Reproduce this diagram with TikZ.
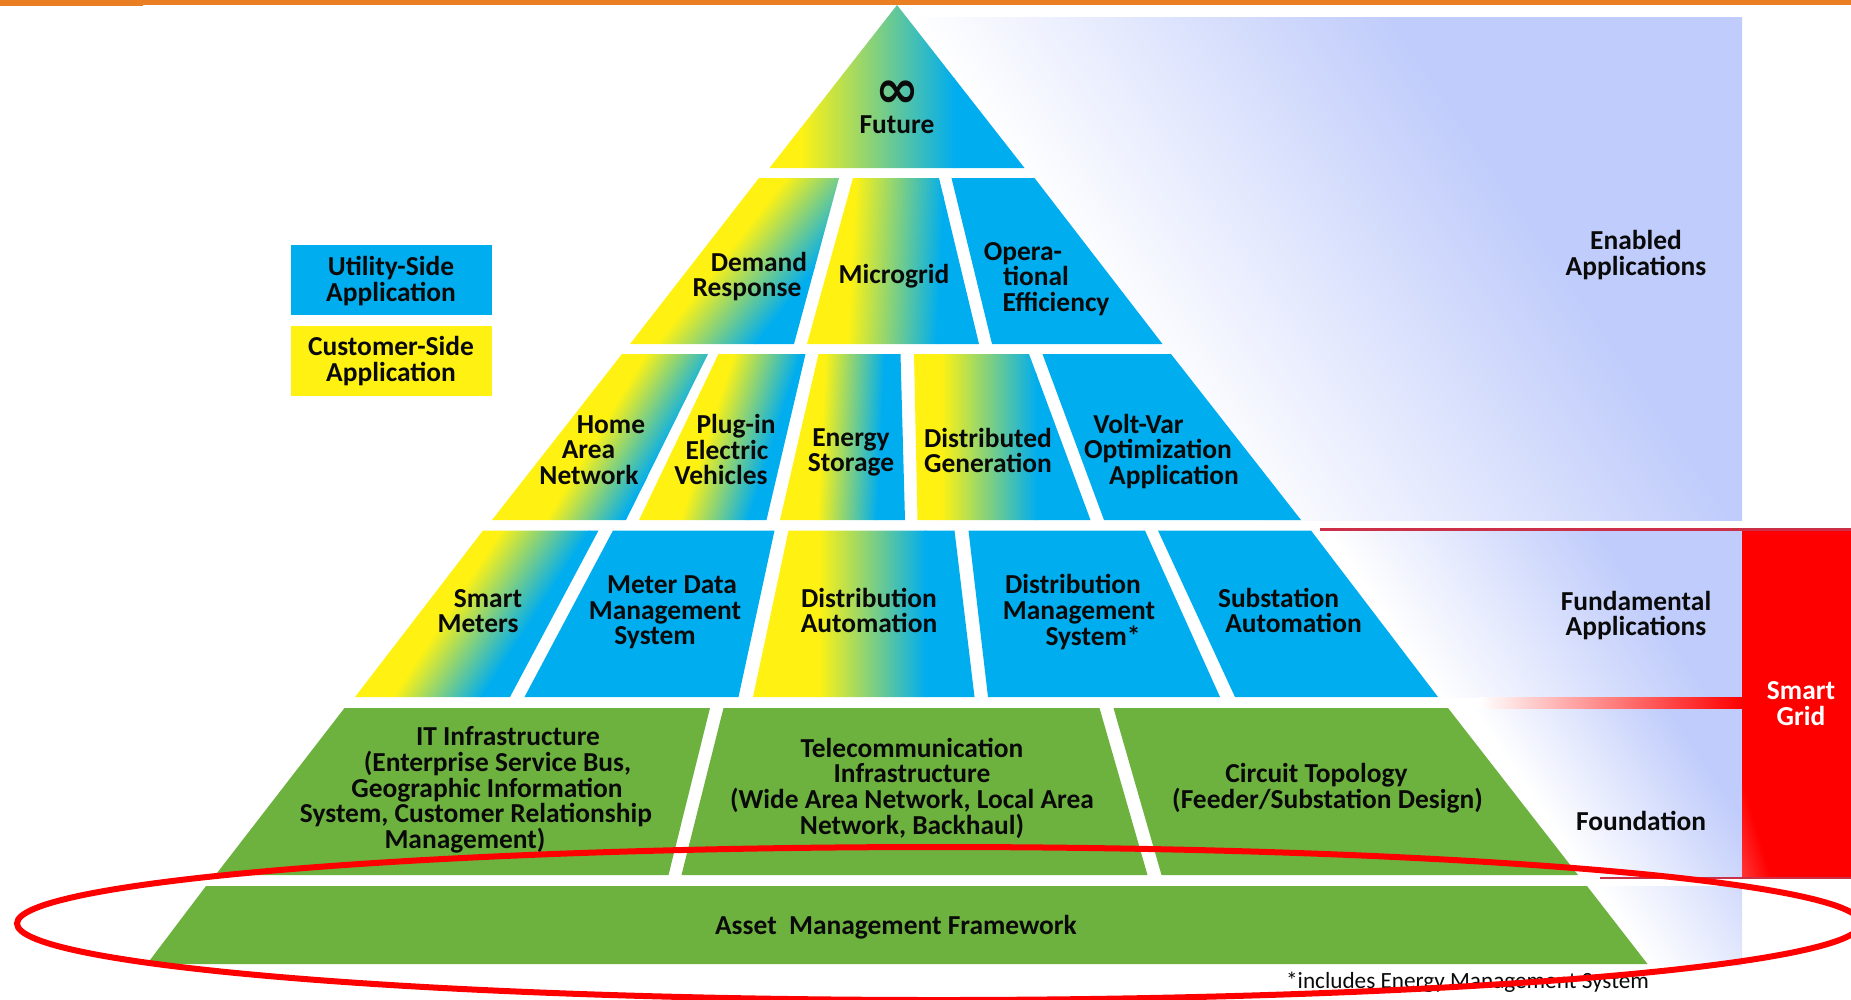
\documentclass[tikz,border=0pt]{standalone}
\usepackage{fontspec}
\usepackage{amsfonts, amsmath}
\usepackage{tikz}
\setmainfont{Carlito}
\newfontfamily\symfont{DejaVu Sans}

\definecolor{barorange}{HTML}{E97E23}
\definecolor{utilblue}{HTML}{00ADEF}
\definecolor{custyellow}{HTML}{FFF212}
\definecolor{basegreen}{HTML}{6DB23F}
\definecolor{bandblue}{HTML}{C0CCFB}
\definecolor{linered}{HTML}{CC3048}
\definecolor{inkblack}{HTML}{0A0A0A}
\definecolor{pinkred}{HTML}{FF6060}

\newcommand{\lblfont}{\fontsize{7.8}{7.3}\selectfont\bfseries}
\newcommand{\ls}[1]{\hspace*{#1\dimexpr.569pt\relax}}
\newcommand{\gradcell}[8]{
 \begin{scope}
  \clip #1 -- cycle;
  \begin{scope}[transform canvas = {shift = {(0, #3)}, cm = {1, 0, #2, 1, (0, 0)}, shift = {(0, -#3)}}]
   \fill[#7] (#5 - 900, #3 - 1) rectangle (#5 + 1, #4 + 1);
   \fill[#8] (#6 - 1, #3 - 1) rectangle (#6 + 900, #4 + 1);
   \shade[left color = #7, right color = #8] (#5, #3 - 1) rectangle (#6, #4 + 1);
  \end{scope}
 \end{scope}}

\tikzset{
 lbl/.style = {font = \lblfont, align = center, inner sep = 0, text = inkblack},
 whitelbl/.style = {lbl, text = white},
 cellblue/.style = {fill = utilblue},
 cellgreen/.style = {fill = basegreen}
}

\begin{document}
\begin{tikzpicture}[x = .01cm, y = -.01cm]
 \useasboundingbox (0, 0) rectangle (1851, 999);
 \fill[barorange] (0, 0) rectangle (1851, 5);
 \fill[barorange] (0, 0) rectangle (143, 6);

 \gradcell{(897, 17) -- (1742, 17) -- (1742, 520) -- (897, 520)}{-.68}{17}{520}{910}{1390}{white}{bandblue}
 \gradcell{(1200, 531) -- (1742, 531) -- (1742, 697) -- (1200, 697)}{-.68}{531}{697}{1326}{1597}{white}{bandblue}
 \gradcell{(1300, 708) -- (1742, 708) -- (1742, 876) -- (1300, 876)}{-.68}{708}{876}{1472}{1667}{white}{bandblue}
 \gradcell{(1500, 886) -- (1742, 886) -- (1742, 965) -- (1500, 965)}{-.68}{886}{965}{1597}{1800}{white}{bandblue}

 \fill[red] (1742, 528) rectangle (1851, 878);
 \gradcell{(1742, 780) -- (1800, 780) -- (1800, 878) -- (1742, 878)}{-.3}{780}{878}{1690}{1742}{pinkred}{red}
 \fill[linered] (1320, 527.5) rectangle (1851, 531);
 \fill[linered] (1600, 876.5) rectangle (1851, 879);
 \shade[left color = white, right color = red] (1480, 697) rectangle (1742, 708);

 % legend
 \fill[utilblue] (291, 245) rectangle (492, 315);
 \fill[custyellow] (291, 326) rectangle (492, 396);

 % pyramid, top to bottom
 \gradcell{(897, 5) -- (1024.5, 168) -- (769.5, 168)}{0}{5}{168}{800}{955}{custyellow}{utilblue}

 \gradcell{(759, 178) -- (839, 178) -- (794, 344) -- (630, 344)}{.78}{178}{344}{785}{885}{custyellow}{utilblue}
 \gradcell{(853, 178) -- (939, 178) -- (979, 344) -- (807, 344)}{.05}{178}{344}{855}{945}{custyellow}{utilblue}
 \fill[cellblue] (951.5, 178) -- (1034.5, 178) -- (1162.5, 344) -- (992, 344) -- cycle;

 \gradcell{(622, 354) -- (708, 354) -- (626, 520) -- (492, 520)}{.6}{354}{520}{645}{722}{custyellow}{utilblue}
 \gradcell{(718.5, 354) -- (805.5, 354) -- (766.5, 520) -- (639, 520)}{.32}{354}{520}{733}{801}{custyellow}{utilblue}
 \gradcell{(818.5, 354) -- (900.5, 354) -- (905, 520) -- (780, 520)}{.05}{354}{520}{825}{885}{custyellow}{utilblue}
 \gradcell{(914, 354) -- (1029, 354) -- (1090.5, 520) -- (917.5, 520)}{0}{354}{520}{941}{1037}{custyellow}{utilblue}
 \fill[cellblue] (1042.5, 354) -- (1171, 354) -- (1301, 520) -- (1104, 520) -- cycle;

 \gradcell{(483, 530.5) -- (598.5, 530.5) -- (510, 697) -- (355, 697)}{.65}{530.5}{697}{500}{590}{custyellow}{utilblue}
 \fill[cellblue] (613, 530.5) -- (774.5, 530.5) -- (738.5, 697) -- (524.5, 697) -- cycle;
 \gradcell{(788.5, 530.5) -- (954.5, 530.5) -- (974.5, 697) -- (753, 697)}{0}{530.5}{697}{818}{926}{custyellow}{utilblue}
 \fill[cellblue] (968.5, 530.5) -- (1145, 530.5) -- (1220, 697) -- (988, 697) -- cycle;
 \fill[cellblue] (1158, 530.5) -- (1311, 530.5) -- (1438, 697) -- (1235, 697) -- cycle;

 \fill[cellgreen] (344.5, 708) -- (710, 708) -- (668.5, 875) -- (215.5, 875) -- cycle;
 \fill[cellgreen] (723.5, 708) -- (1099.5, 708) -- (1147.5, 875) -- (681.5, 875) -- cycle;
 \fill[cellgreen] (1113.5, 708) -- (1448, 708) -- (1578, 875) -- (1161.5, 875) -- cycle;

 \fill[cellgreen] (206, 886) -- (1587, 886) -- (1647.5, 964) -- (147, 964) -- cycle;

 % labels
 \node[lbl] (utility) at (391, 281) {Utility-Side\\Application};
 \node[lbl] (customer) at (391, 361) {Customer-Side\\Application};

 \node[lbl, font = \symfont\bfseries\fontsize{15}{15}\selectfont] (infinity) at (897, 94) {∞};
 \node[lbl] (future) at (897, 125) {Future};

 \node[lbl] (demand) at (752, 276.5) {\ls{7}Demand\\\ls{-5}Response};
 \node[lbl] (microgrid) at (894, 276) {Microgrid};
 \node[lbl] (operational) at (1036, 279) {\ls{-13}Opera-\\tional\\\ls{20}Efficiency};

 \node[lbl] (home) at (595, 450) {\ls{16}Home\\\ls{-6.5}Area\\\ls{-6}Network};
 \node[lbl] (plugin) at (727, 449.5) {\ls{9}Plug-in\\Electric\\\ls{-6}Vehicles};
 \node[lbl] (storage) at (851, 452.5) {Energy\\Storage};
 \node[lbl] (generation) at (988, 450.5) {Distributed\\Generation};
 \node[lbl] (voltvar) at (1158, 451.5) {\ls{-19.5}Volt-Var\\Optimization\\\ls{16}Application};

 \node[lbl] (meters) at (483, 611) {\ls{5}Smart\\\ls{-5}Meters};
 \node[lbl] (mdms) at (665, 612.5) {\ls{7}Meter Data\\Management\\\ls{-10}System};
 \node[lbl] (feeder) at (869, 610.5) {Distribution\\Automation};
 \node[lbl] (dms) at (1079, 612) {\ls{-6}Distribution\\Management\\\ls{14}System*};
 \node[lbl] (substation) at (1286, 610.5) {\ls{-7.5}Substation\\\ls{7.5}Automation};

 \node[lbl] (itinfra) at (487, 790) {\ls{21}IT Infrastructure\\\ls{10.5}(Enterprise Service Bus,\\Geographic Information\\\ls{-11}System, Customer Relationship\\\ls{-22}Management)};
 \node[lbl] (telecom) at (912, 788) {Telecommunication\\Infrastructure\\(Wide Area Network, Local Area\\Network, Backhaul)};
 \node[lbl] (circuit) at (1322, 788) {\ls{-5.5}Circuit Topology\\\ls{5.5}(Feeder/Substation Design)};
 \node[lbl] (asset) at (896, 927) {Asset\ \ Management Framework};

 \node[lbl] (enabled) at (1636, 255) {Enabled\\Applications};
 \node[lbl] (fundamental) at (1636, 615.5) {Fundamental\\Applications};
 \node[lbl] (foundation) at (1641, 820.5) {Foundation};
 \node[whitelbl] (smartgrid) at (1801, 703.5) {Smart\\Grid};

 \node[inner sep = 0, text = inkblack, font = \fontsize{6.6}{7}\selectfont] (note) at (1467.5, 982.5) {*includes Energy Management System};

 \draw[red, line width = .06cm] (939, 923.5) ellipse [x radius = 922, y radius = 76.5];
\end{tikzpicture}
\end{document}
